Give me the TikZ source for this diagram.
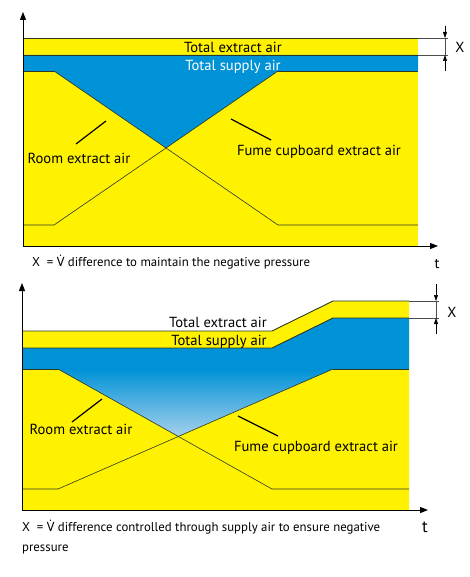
\documentclass[tikz,border=0pt]{standalone}
\usepackage{fontspec}
\setmainfont{PT Sans}
\newfontfamily\dotfont{Noto Sans}
\newcommand{\Vdot}{{\dotfont V\char"0307}}
\usetikzlibrary{arrows.meta}
\definecolor{ylw}{RGB}{255,242,0}
\definecolor{blu}{RGB}{0,146,214}
\definecolor{lightblu}{RGB}{165,208,236}
\definecolor{edge}{RGB}{45,55,40}
\begin{document}
\begin{tikzpicture}[x=1pt,y=-1pt,
  bnd/.style={draw=edge, line width=0.9pt},
  xline/.style={draw=edge, line width=0.6pt},
  axis/.style={line width=1pt, -{Triangle[length=8pt,width=6pt]}},
  dim/.style={draw=gray!60!black, line width=0.5pt},
  dimarr/.style={draw=black, line width=0.5pt, -{Triangle[length=6pt,width=4pt]}},
  lbl/.style={font=\fontsize{14.6}{16}\selectfont, inner sep=0pt},
  captxt/.style={font=\fontsize{12.8}{15}\selectfont, inner sep=0pt, anchor=west},
  ptr/.style={line width=1.2pt}]
\useasboundingbox (0,0) rectangle (470,577);
\fill[white] (0,0) rectangle (470,577);

% ================= TOP DIAGRAM =================
\coordinate (tO) at (23,246);
\coordinate (tY) at (23,12);
\coordinate (tX) at (438,246);
\fill[ylw] (23,38) rectangle (418,246);
\fill[blu] (23,55) -- (418,55) -- (418,71) -- (278,71) -- (166,148) -- (54,71) -- (23,71) -- cycle;
\draw[bnd] (23,38) -- (418,38);
\draw[bnd] (23,55) -- (418,55);
\draw[bnd] (23,71) -- (54,71);
\draw[bnd] (278,71) -- (418,71);
\draw[xline] (23,225) -- (54,225) -- (278,71);
\draw[xline] (54,71) -- (278,225) -- (418,225);
\draw[axis] (tO) -- (tY);
\draw[axis] (tO) -- (tX);
% dimension X
\draw[dim] (418,38) -- (448,38);
\draw[dim] (418,55) -- (448,55);
\draw[dim] (445,38) -- (445,55);
\draw[dimarr] (445,26) -- (445,38);
\draw[dimarr] (445,71) -- (445,55);
\node[lbl] (tx) at (460,47) {X};
% labels
\node[lbl] (tea) at (233,47) {Total extract air};
\node[lbl, text=white] (tsa) at (233,67) {Total supply air};
\node[lbl] (trea) at (79,158) {Room extract air};
\node[lbl] (tfce) at (319,152) {Fume cupboard extract air};
\coordinate (trp1) at (76,144);
\coordinate (trp2) at (106,121);
\coordinate (tfp1) at (231,119);
\coordinate (tfp2) at (271,140);
\draw[ptr] (trp1) -- (trp2);
\draw[ptr] (tfp1) -- (tfp2);
\node[captxt] (tcap) at (32,262) {X\ \ = \Vdot{} difference to maintain the negative pressure};
\node[lbl] (tt) at (437,264) {t};

% ================= BOTTOM DIAGRAM =================
\coordinate (bO) at (22,510);
\coordinate (bY) at (22,283);
\coordinate (bX) at (428,510);
\fill[ylw] (22,331) -- (272,331) -- (333,301) -- (409,301) -- (409,510) -- (22,510) -- cycle;
\fill[blu] (22,348) -- (272,348) -- (333,318) -- (409,318) -- (409,369) -- (333,369) -- (178,436) -- (58,369) -- (22,369) -- cycle;
\shade[top color=blu, middle color=blu!85!lightblu, bottom color=lightblu]
  (58,369) -- (333,369) -- (178,436) -- cycle;
\draw[bnd] (22,331) -- (272,331) -- (333,301) -- (409,301);
\draw[bnd] (22,348) -- (272,348) -- (333,318) -- (409,318);
\draw[bnd] (22,369) -- (58,369);
\draw[bnd] (333,369) -- (409,369);
\draw[xline] (22,489) -- (58,489) -- (333,369);
\draw[xline] (58,369) -- (272,489) -- (409,489);
\draw[axis] (bO) -- (bY);
\draw[axis] (bO) -- (bX);
% dimension X
\draw[dim] (409,301) -- (439,301);
\draw[dim] (409,318) -- (439,318);
\draw[dim] (436,301) -- (436,318);
\draw[dimarr] (436,284) -- (436,301);
\draw[dimarr] (436,334) -- (436,318);
\node[lbl] (bx) at (452,312) {X};
% labels
\node[lbl] (bea) at (218,322) {Total extract air};
\node[lbl] (bsa) at (219,342) {Total supply air};
\node[lbl] (brea) at (81,429) {Room extract air};
\node[lbl] (bfce) at (316,448) {Fume cupboard extract air};
\coordinate (brp1) at (72,422);
\coordinate (brp2) at (102,399);
\coordinate (bfp1) at (238,416);
\coordinate (bfp2) at (278,436);
\draw[ptr] (brp1) -- (brp2);
\draw[ptr] (bfp1) -- (bfp2);
\node[captxt] (bcap) at (22,527) {X\ \ = \Vdot{} difference controlled through supply air to ensure negative};
\node[captxt] (bcap2) at (22,549) {pressure};
\node[lbl, font=\fontsize{17}{18}\selectfont] (bt) at (425,527) {t};
\end{tikzpicture}
\end{document}
